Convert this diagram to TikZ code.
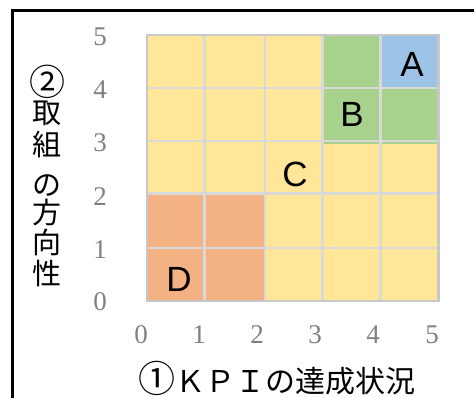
\documentclass[tikz,border=0pt]{standalone}
\usepackage{fontspec}
\newfontfamily\jpfont{Noto Sans CJK JP}
\newfontfamily\letterfont{Liberation Sans}
\newfontfamily\numfont{Liberation Serif}
\definecolor{cellyellow}{RGB}{255,230,153}
\definecolor{cellgreen}{RGB}{169,209,142}
\definecolor{cellblue}{RGB}{157,195,230}
\definecolor{cellorange}{RGB}{244,177,131}
\definecolor{gridgray}{RGB}{217,217,217}
\definecolor{bordergray}{RGB}{200,200,200}
\definecolor{tickgray}{RGB}{128,128,128}
\tikzset{
  ticklabel/.style={inner sep=0pt, text=tickgray, font=\numfont\fontsize{27}{27}\selectfont},
  letterlabel/.style={inner sep=0pt, font=\letterfont\fontsize{35}{35}\selectfont},
  jpchar/.style={inner sep=0pt, font=\jpfont\fontsize{29}{29}\selectfont},
  gridline/.style={draw=gridgray, line width=2.5pt},
  frameline/.style={draw=black, line width=3pt}
}
\begin{document}
\begin{tikzpicture}[x=1pt,y=-1pt]
\useasboundingbox (0,0) rectangle (474,398);
% column and row boundaries
\def\xa{147}\def\xb{204.5}\def\xc{265}\def\xd{322.5}\def\xe{380.5}\def\xf{438.5}
\def\ya{35}\def\yb{88}\def\yc{141}\def\yd{193.5}\def\ye{248}\def\yf{301}
% fills
\fill[cellyellow] (\xa,\ya) rectangle (\xf,\yf);
\fill[cellgreen] (\xd,\ya) rectangle (\xf,144);
\fill[cellblue] (\xe,\ya) rectangle (\xf,\yb);
\fill[cellorange] (\xa,\yd) rectangle (\xc,\yf);
% grid lines
\foreach \gx in {\xb,\xc,\xd,\xe} \draw[gridline] (\gx,\ya) -- (\gx,\yf);
\foreach \gy in {\yb,\yc,\yd,\ye} \draw[gridline] (\xa,\gy) -- (\xf,\gy);
\draw[draw=bordergray, line width=2.5pt] (\xa,\ya) rectangle (\xf,\yf);
% letters
\node[letterlabel] (lA) at (412,64) {A};
\node[letterlabel] (lB) at (352,114) {B};
\node[letterlabel] (lC) at (295,174) {C};
\node[letterlabel] (lD) at (179,279) {D};
% y tick labels
\node[ticklabel] (y5) at (100,37) {5};
\node[ticklabel] (y4) at (100,90) {4};
\node[ticklabel] (y3) at (100,143) {3};
\node[ticklabel] (y2) at (100,197) {2};
\node[ticklabel] (y1) at (100,250) {1};
\node[ticklabel] (y0) at (100,302) {0};
% x tick labels
\node[ticklabel] (x0) at (141,335) {0};
\node[ticklabel] (x1) at (199,335) {1};
\node[ticklabel] (x2) at (257,335) {2};
\node[ticklabel] (x3) at (315,335) {3};
\node[ticklabel] (x4) at (373,335) {4};
\node[ticklabel] (x5) at (432,335) {5};
% x title
\node[inner sep=0pt, font=\jpfont\fontsize{30}{30}\selectfont] (xtitle) at (277,378) {{\fontsize{37}{37}\selectfont ①}ＫＰＩの達成状況};
% y title (vertical)
\node[inner sep=0pt, font=\jpfont\fontsize{36}{36}\selectfont] (t1) at (47,82) {②};
\node[jpchar] (t2) at (47,113) {取};
\node[jpchar] (t3) at (47,145) {組};
\node[jpchar] (t4) at (47,186) {の};
\node[jpchar] (t5) at (47,212) {方};
\node[jpchar] (t6) at (47,242) {向};
\node[jpchar] (t7) at (47,273) {性};
% frame
\coordinate (fbl) at (12.5,410);
\coordinate (ftr) at (490,10.5);
\draw[frameline] (fbl) |- (ftr);
\end{tikzpicture}
\end{document}
